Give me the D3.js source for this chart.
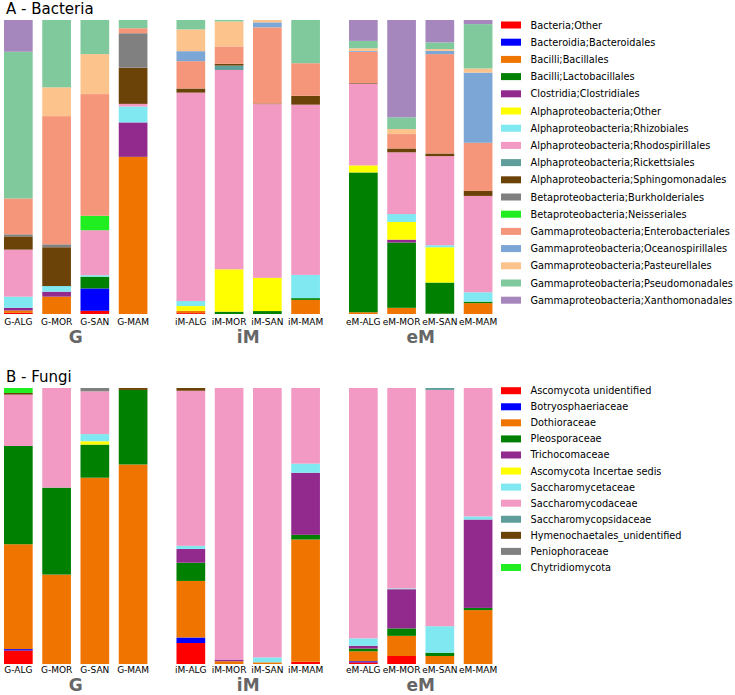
<!DOCTYPE html>
<html><head><meta charset="utf-8">
<script src="https://cdn.jsdelivr.net/npm/d3@7"></script>
<style>body{margin:0;background:#fff}svg{display:block;font-family:"DejaVu Sans",sans-serif}</style>
</head><body><svg id="chart" width="735" height="695"></svg>
<script>
const groups = ["G", "iM", "eM"];
const sites = ["ALG", "MOR", "SAN", "MAM"];
const sampleLabels = groups.flatMap(g => sites.map(s => g + "-" + s));

const bacteriaTaxa = [
  "Bacteria;Other", "Bacteroidia;Bacteroidales", "Bacilli;Bacillales", "Bacilli;Lactobacillales",
  "Clostridia;Clostridiales", "Alphaproteobacteria;Other", "Alphaproteobacteria;Rhizobiales",
  "Alphaproteobacteria;Rhodospirillales", "Alphaproteobacteria;Rickettsiales",
  "Alphaproteobacteria;Sphingomonadales", "Betaproteobacteria;Burkholderiales",
  "Betaproteobacteria;Neisseriales", "Gammaproteobacteria;Enterobacteriales",
  "Gammaproteobacteria;Oceanospirillales", "Gammaproteobacteria;Pasteurellales",
  "Gammaproteobacteria;Pseudomonadales", "Gammaproteobacteria;Xanthomonadales"
];
const bacteriaColors = [
  "#ff0000", "#0000ff", "#f07500", "#008000", "#912a8c", "#ffff00", "#7fe8f0", "#f29ac3",
  "#5f9e9a", "#6b4309", "#808080", "#20ee20", "#f5967a", "#7ba6d6", "#fcc48c", "#80c99c", "#a587be"
];
// one row per sample (G-ALG ... eM-MAM), columns in bacteriaTaxa order (relative abundance, %)
const bacteriaValues = [
  [0.4, 0, 0.8, 0, 0.9, 0, 3.8, 16.0, 0, 4.5, 0.7, 0, 12.2, 0, 0, 49.9, 10.8],
  [0, 0, 5.9, 0, 1.7, 0, 1.9, 0, 0, 13.2, 1.0, 0, 43.6, 0, 9.8, 22.9, 0],
  [1.1, 7.6, 0, 4.0, 0, 0, 0.5, 15.3, 0, 0, 0, 4.9, 41.4, 0, 13.6, 11.6, 0],
  [0, 0, 53.4, 0, 11.7, 0, 5.4, 0.9, 0, 12.3, 11.7, 0, 1.7, 0, 0, 2.8, 0],
  [0.3, 0, 0.8, 0, 0, 1.6, 1.7, 70.9, 0, 1.4, 0, 0, 9.3, 3.4, 7.4, 3.2, 0],
  [0, 0, 0, 0.8, 0, 14.4, 0, 67.8, 1.5, 0.6, 0, 0, 5.9, 0, 8.5, 0.5, 0],
  [0, 0, 0, 1.0, 0, 11.3, 0, 59.1, 0, 0.2, 0, 0, 25.9, 1.7, 0.8, 0, 0],
  [0, 0, 4.8, 0.6, 0, 0, 7.9, 57.9, 0, 3.0, 0, 0, 11.1, 0, 0, 14.7, 0],
  [0, 0, 0.6, 47.5, 0, 2.4, 0, 27.8, 0, 0.2, 0, 0, 10.6, 0.3, 0.9, 2.5, 7.1],
  [0, 0, 2.1, 22.2, 1.0, 6.0, 2.7, 21.0, 0, 1.3, 0, 0, 4.9, 0, 1.7, 4.0, 33.1],
  [0, 0, 0.1, 10.6, 0, 12.0, 0.7, 30.3, 0, 0.9, 0, 0, 33.8, 1.1, 0.6, 2.3, 7.6],
  [0, 0, 3.7, 0.5, 0, 0, 3.2, 32.8, 0, 1.7, 0, 0, 16.4, 23.9, 1.4, 15.1, 1.4]
];

const fungiTaxa = [
  "Ascomycota unidentified", "Botryosphaeriaceae", "Dothioraceae", "Pleosporaceae",
  "Trichocomaceae", "Ascomycota Incertae sedis", "Saccharomycetaceae", "Saccharomycodaceae",
  "Saccharomycopsidaceae", "Hymenochaetales_unidentified", "Peniophoraceae", "Chytridiomycota"
];
const fungiColors = [
  "#ff0000", "#0000ff", "#f07500", "#008000", "#912a8c", "#ffff00", "#7fe8f0", "#f29ac3",
  "#5f9e9a", "#6b4309", "#808080", "#20ee20"
];
const fungiValues = [
  [4.9, 0.5, 38.0, 35.6, 0, 0, 0, 18.6, 0, 0.6, 0, 1.8],
  [0, 0, 32.4, 31.5, 0, 0, 0, 36.1, 0, 0, 0, 0],
  [0, 0, 67.5, 12.0, 0, 1.2, 2.6, 15.5, 0, 0, 1.2, 0],
  [0, 0, 72.3, 27.0, 0, 0, 0, 0, 0, 0.7, 0, 0],
  [7.6, 2.0, 20.5, 6.6, 5.0, 0, 1.1, 56.2, 0, 1.0, 0, 0],
  [0, 0, 1.0, 0, 0.6, 0, 0, 98.4, 0, 0, 0, 0],
  [0, 0, 0.6, 0, 0, 0, 1.8, 97.6, 0, 0, 0, 0],
  [0.8, 0, 44.3, 1.7, 22.5, 0, 3.3, 27.4, 0, 0, 0, 0],
  [0.6, 0.4, 3.6, 1.0, 1.0, 0, 2.7, 90.7, 0, 0, 0, 0],
  [2.9, 0, 7.3, 2.7, 14.2, 0, 0.3, 72.6, 0, 0, 0, 0],
  [0, 0, 2.9, 1.2, 0, 0, 9.6, 85.6, 0.7, 0, 0, 0],
  [0, 0, 19.5, 0.8, 32.0, 0, 1.1, 46.5, 0, 0, 0, 0]
];

const svg = d3.select("#chart");

const xGroup = d3.scaleBand().domain(groups).range([4, 502]).paddingInner(0.113).paddingOuter(0);
const xSite = d3.scaleBand().domain(sites).range([0, xGroup.bandwidth()])
  .paddingInner(0.25).paddingOuter(0.125).align(0);

function drawPanel(cfg) {
  const g = svg.append("g");
  const rows = sampleLabels.map((lab, i) => {
    const o = { sample: lab, group: groups[Math.floor(i / 4)], site: sites[i % 4] };
    cfg.taxa.forEach((t, j) => o[t] = cfg.values[i][j]);
    return o;
  });
  const series = d3.stack().keys(cfg.taxa).offset(d3.stackOffsetExpand)(rows);
  const y = d3.scaleLinear().domain([0, 1]).range([cfg.yBottom, cfg.yTop]);
  const color = d3.scaleOrdinal().domain(cfg.taxa).range(cfg.colors);

  g.append("text").attr("x", 6).attr("y", cfg.titleY).attr("font-size", 15)
    .attr("fill", "#000").text(cfg.title);

  g.selectAll("g.layer").data(series).join("g").attr("class", "layer")
    .attr("fill", d => color(d.key))
    .selectAll("rect").data(d => d.filter(p => p[1] - p[0] > 0)).join("rect")
    .attr("x", d => xGroup(d.data.group) + xSite(d.data.site))
    .attr("width", xSite.bandwidth())
    .attr("y", d => y(d[1]))
    .attr("height", d => y(d[0]) - y(d[1]));

  g.selectAll("text.sample").data(rows).join("text").attr("class", "sample")
    .attr("x", d => xGroup(d.group) + xSite(d.site) + xSite.bandwidth() / 2)
    .attr("y", cfg.labelY).attr("text-anchor", "middle").attr("font-size", 9)
    .attr("fill", "#000").text(d => d.sample);

  g.selectAll("text.grp").data(groups).join("text").attr("class", "grp")
    .attr("x", d => xGroup(d) + (xSite(sites[3]) + xSite.bandwidth()) / 2)
    .attr("y", cfg.groupY).attr("text-anchor", "middle").attr("font-size", 17)
    .attr("font-weight", "bold").attr("fill", "#666").text(d => d);

  const leg = g.selectAll("g.leg").data(cfg.taxa).join("g").attr("class", "leg")
    .attr("transform", (d, i) => `translate(501,${cfg.legY0 + i * cfg.legStep})`);
  leg.append("rect").attr("x", 0).attr("y", -3.5).attr("width", 20).attr("height", 7)
    .attr("fill", d => color(d));
  leg.append("text").attr("x", 29.5).attr("y", 3.5).attr("font-size", 9.75)
    .attr("fill", "#000").text(d => d);
}

drawPanel({
  title: "A - Bacteria", taxa: bacteriaTaxa, colors: bacteriaColors, values: bacteriaValues,
  yTop: 20, yBottom: 314, titleY: 14, labelY: 324.5, groupY: 343,
  legY0: 25, legStep: 17.2
});
drawPanel({
  title: "B - Fungi", taxa: fungiTaxa, colors: fungiColors, values: fungiValues,
  yTop: 388, yBottom: 664, titleY: 382, labelY: 673, groupY: 691,
  legY0: 390.7, legStep: 16.07
});
</script></body></html>
